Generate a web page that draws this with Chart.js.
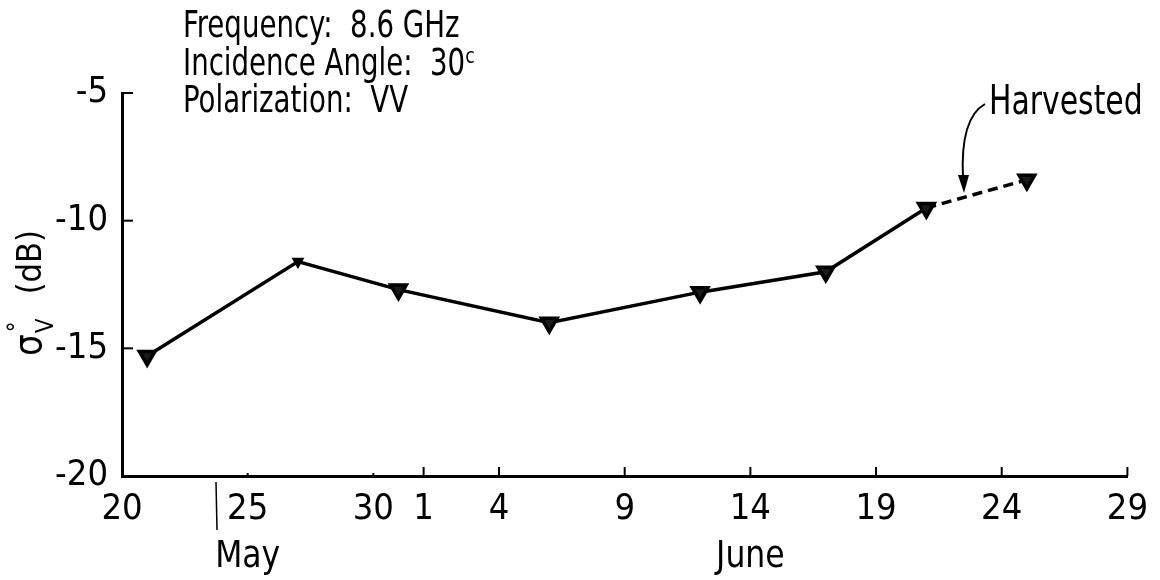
<!DOCTYPE html>
<html>
<head>
<meta charset="utf-8">
<script src="https://cdn.jsdelivr.net/npm/chart.js@4/dist/chart.umd.min.js"></script>
<style>
  body { margin: 0; background: #fff; }
  #wrap { width: 1160px; height: 580px; position: relative; }
</style>
</head>
<body>
<div id="wrap"><canvas id="sigmaChart"></canvas></div>
<script>
// days counted from 20 May (0) to 29 June (40)
let obsDays = [1, 7, 11, 17, 23, 28, 32, 36];
let sigmaDb = [-15.3, -11.6, -12.7, -14.0, -12.8, -12.0, -9.5, -8.4];

let tickDays = [0, 5, 10, 12, 15, 20, 25, 30, 35, 40];
let tickLabels = ['20', '25', '30', '1', '4', '9', '14', '19', '24', '29'];
let yTicks = [-5, -10, -15, -20];
let yTickLabels = ['-5', '-10', '-15', '-20'];

let monthNames = ['May', 'June'];
let monthDays = [5, 25];

let infoLines = ['Frequency:  8.6 GHz', 'Incidence Angle:  30\u1D9C', 'Polarization:  VV'];
let harvestNote = 'Harvested';

const FONT = "'DejaVu Sans Condensed', 'DejaVu Sans', sans-serif";

// narrow text: draw squeezed horizontally
function narrowText(ctx, txt, x, y, sx) {
  ctx.save();
  ctx.translate(x, y);
  ctx.scale(sx, 1);
  ctx.fillText(txt, 0, 0);
  ctx.restore();
}

const extras = {
  id: 'extras',
  afterDraw(chart) {
    const ctx = chart.ctx;
    const xs = chart.scales.x, ys = chart.scales.y;
    const area = chart.chartArea;
    ctx.save();
    ctx.strokeStyle = '#000';
    ctx.fillStyle = '#000';

    // inward tick marks
    ctx.lineWidth = 2;
    tickDays.forEach(d => {
      const px = xs.getPixelForValue(d);
      const len = d < 12 ? 3 : 9;
      ctx.beginPath();
      ctx.moveTo(px, area.bottom);
      ctx.lineTo(px, area.bottom - len);
      ctx.stroke();
    });
    yTicks.forEach(v => {
      const py = ys.getPixelForValue(v);
      ctx.beginPath();
      ctx.moveTo(area.left, py);
      ctx.lineTo(area.left + 11, py);
      ctx.stroke();
    });

    // month names
    ctx.font = '38px ' + FONT;
    ctx.textAlign = 'center';
    ctx.textBaseline = 'alphabetic';
    monthNames.forEach((m, i) => {
      narrowText(ctx, m, xs.getPixelForValue(monthDays[i]), 567, 0.92);
    });
    ctx.lineWidth = 1.5;
    ctx.beginPath();
    ctx.moveTo(216, 482);
    ctx.lineTo(217, 530);
    ctx.stroke();

    // info block
    ctx.textAlign = 'left';
    ctx.font = '37px ' + FONT;
    infoLines.forEach((t, i) => narrowText(ctx, t, 183, 37 + i * 37.5, 0.83));

    // harvested note with arrow
    ctx.font = '40px ' + FONT;
    narrowText(ctx, harvestNote, 989, 114, 0.83);
    ctx.lineWidth = 2;
    ctx.beginPath();
    ctx.moveTo(985, 104);
    ctx.quadraticCurveTo(960, 118, 963, 178);
    ctx.stroke();
    ctx.beginPath();
    ctx.moveTo(958, 175);
    ctx.lineTo(969, 175);
    ctx.lineTo(964, 193);
    ctx.closePath();
    ctx.fill();

    // y axis title: sigma, sub V, sup degree, (dB)
    ctx.translate(41, 356);
    ctx.rotate(-Math.PI / 2);
    ctx.font = '38px ' + FONT;
    ctx.fillText('\u03C3', 0, 0);
    const w = ctx.measureText('\u03C3').width;
    ctx.font = '24px ' + FONT;
    ctx.fillText('V', w + 1, 12);
    ctx.fillText('\u00B0', w + 2, -16);
    ctx.font = '34px ' + FONT;
    ctx.fillText('(dB)', w + 40, 0);
    ctx.restore();
  }
};

new Chart(document.getElementById('sigmaChart'), {
  type: 'line',
  data: {
    datasets: [{
      data: obsDays.map((d, i) => ({ x: d, y: sigmaDb[i] })),
      borderColor: '#000',
      borderWidth: 3.5,
      backgroundColor: '#1a1a1a',
      pointBorderColor: '#000',
      pointStyle: 'triangle',
      rotation: 180,
      pointRadius: ctx => ctx.dataIndex === 1 ? 4 : 9,
      tension: 0,
      clip: false,
      segment: {
        borderDash: ctx => ctx.p1DataIndex === obsDays.length - 1 ? [10, 6] : undefined
      }
    }]
  },
  options: {
    responsive: true,
    maintainAspectRatio: false,
    animation: false,
    layout: { padding: { top: 93, right: 26, left: 0, bottom: 0 } },
    plugins: { legend: { display: false }, tooltip: { enabled: false } },
    scales: {
      x: {
        type: 'linear',
        min: 0,
        max: 40,
        afterBuildTicks: s => { s.ticks = tickDays.map(v => ({ value: v })); },
        afterFit: s => { s.height = 104; },
        ticks: {
          autoSkip: false,
          maxRotation: 0,
          padding: 12,
          color: '#000',
          font: { family: FONT, size: 36 },
          callback: (v, i) => tickLabels[i]
        },
        grid: { display: false, drawTicks: false },
        border: { display: true, color: '#000', width: 3 }
      },
      y: {
        min: -20,
        max: -5,
        afterBuildTicks: s => { s.ticks = yTicks.map(v => ({ value: v })); },
        afterFit: s => { s.width = 122; },
        ticks: {
          padding: 14,
          color: '#000',
          font: { family: FONT, size: 36 },
          callback: (v, i) => yTickLabels[i]
        },
        grid: { display: false, drawTicks: false },
        border: { display: true, color: '#000', width: 3 }
      }
    }
  },
  plugins: [extras]
});
</script>
</body>
</html>
